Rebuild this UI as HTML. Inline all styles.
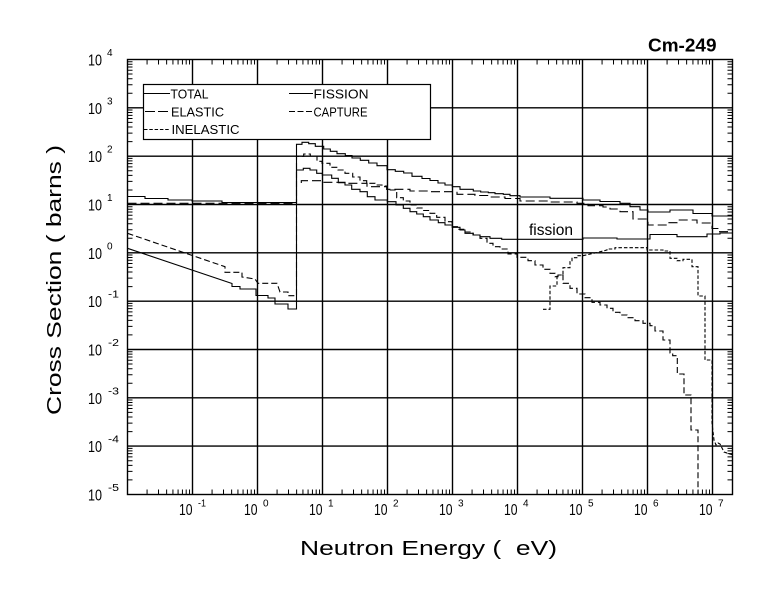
<!DOCTYPE html>
<html>
<head>
<meta charset="utf-8">
<style>
html,body{margin:0;padding:0;background:#fff;}
svg{display:block;}
text{font-family:"Liberation Sans",sans-serif;fill:#000;}
</style>
</head>
<body>
<svg width="780" height="590" viewBox="0 0 780 590" xmlns="http://www.w3.org/2000/svg">
<rect x="0" y="0" width="780" height="590" fill="#fff"/>

<!-- grid -->
<g stroke="#000" stroke-width="1.4" fill="none">
<path d="M127.5 107.8H732.5M127.5 156.2H732.5M127.5 204.5H732.5M127.5 252.8H732.5M127.5 301.2H732.5M127.5 349.5H732.5M127.5 397.8H732.5M127.5 446.1H732.5"/>
<path d="M192.5 59.5V494.5M257.5 59.5V494.5M322.5 59.5V494.5M387.5 59.5V494.5M452.5 59.5V494.5M517.5 59.5V494.5M582.5 59.5V494.5M647.5 59.5V494.5M712.5 59.5V494.5"/>
<rect x="127.5" y="59.5" width="605" height="435"/>
</g>

<!-- minor ticks -->
<g stroke="#000" stroke-width="1" fill="none">
<path d="M147.07 59.5v5m11.44 -5v5m8.12 -5v5m6.3 -5v5m5.15 -5v5m4.35 -5v5m3.77 -5v5m3.33 -5v5m22.54 -5v5m11.44 -5v5m8.12 -5v5m6.3 -5v5m5.15 -5v5m4.35 -5v5m3.77 -5v5m3.33 -5v5m22.54 -5v5m11.44 -5v5m8.12 -5v5m6.3 -5v5m5.15 -5v5m4.35 -5v5m3.77 -5v5m3.33 -5v5m22.54 -5v5m11.44 -5v5m8.12 -5v5m6.3 -5v5m5.15 -5v5m4.35 -5v5m3.77 -5v5m3.33 -5v5m22.54 -5v5m11.44 -5v5m8.12 -5v5m6.3 -5v5m5.15 -5v5m4.35 -5v5m3.77 -5v5m3.33 -5v5m22.54 -5v5m11.44 -5v5m8.12 -5v5m6.3 -5v5m5.15 -5v5m4.35 -5v5m3.77 -5v5m3.33 -5v5m22.54 -5v5m11.44 -5v5m8.12 -5v5m6.3 -5v5m5.15 -5v5m4.35 -5v5m3.77 -5v5m3.33 -5v5m22.54 -5v5m11.44 -5v5m8.12 -5v5m6.3 -5v5m5.15 -5v5m4.35 -5v5m3.77 -5v5m3.33 -5v5m22.54 -5v5m11.44 -5v5m8.12 -5v5m6.3 -5v5m5.15 -5v5m4.35 -5v5m3.77 -5v5m3.33 -5v5"/>
<path d="M147.07 494.5v-5m11.44 5v-5m8.12 5v-5m6.3 5v-5m5.15 5v-5m4.35 5v-5m3.77 5v-5m3.33 5v-5m22.54 5v-5m11.44 5v-5m8.12 5v-5m6.3 5v-5m5.15 5v-5m4.35 5v-5m3.77 5v-5m3.33 5v-5m22.54 5v-5m11.44 5v-5m8.12 5v-5m6.3 5v-5m5.15 5v-5m4.35 5v-5m3.77 5v-5m3.33 5v-5m22.54 5v-5m11.44 5v-5m8.12 5v-5m6.3 5v-5m5.15 5v-5m4.35 5v-5m3.77 5v-5m3.33 5v-5m22.54 5v-5m11.44 5v-5m8.12 5v-5m6.3 5v-5m5.15 5v-5m4.35 5v-5m3.77 5v-5m3.33 5v-5m22.54 5v-5m11.44 5v-5m8.12 5v-5m6.3 5v-5m5.15 5v-5m4.35 5v-5m3.77 5v-5m3.33 5v-5m22.54 5v-5m11.44 5v-5m8.12 5v-5m6.3 5v-5m5.15 5v-5m4.35 5v-5m3.77 5v-5m3.33 5v-5m22.54 5v-5m11.44 5v-5m8.12 5v-5m6.3 5v-5m5.15 5v-5m4.35 5v-5m3.77 5v-5m3.33 5v-5m22.54 5v-5m11.44 5v-5m8.12 5v-5m6.3 5v-5m5.15 5v-5m4.35 5v-5m3.77 5v-5m3.33 5v-5"/>
<path d="M127.5 479.92h5m-5 -8.51h5m-5 -6.04h5m-5 -4.68h5m-5 -3.83h5m-5 -3.23h5m-5 -2.79h5m-5 -2.49h5m-5 -16.76h5m-5 -8.51h5m-5 -6.04h5m-5 -4.68h5m-5 -3.83h5m-5 -3.23h5m-5 -2.79h5m-5 -2.49h5m-5 -16.76h5m-5 -8.51h5m-5 -6.04h5m-5 -4.68h5m-5 -3.83h5m-5 -3.23h5m-5 -2.79h5m-5 -2.49h5m-5 -16.76h5m-5 -8.51h5m-5 -6.04h5m-5 -4.68h5m-5 -3.83h5m-5 -3.23h5m-5 -2.79h5m-5 -2.49h5m-5 -16.76h5m-5 -8.51h5m-5 -6.04h5m-5 -4.68h5m-5 -3.83h5m-5 -3.23h5m-5 -2.79h5m-5 -2.49h5m-5 -16.76h5m-5 -8.51h5m-5 -6.04h5m-5 -4.68h5m-5 -3.83h5m-5 -3.23h5m-5 -2.79h5m-5 -2.49h5m-5 -16.76h5m-5 -8.51h5m-5 -6.04h5m-5 -4.68h5m-5 -3.83h5m-5 -3.23h5m-5 -2.79h5m-5 -2.49h5m-5 -16.76h5m-5 -8.51h5m-5 -6.04h5m-5 -4.68h5m-5 -3.83h5m-5 -3.23h5m-5 -2.79h5m-5 -2.49h5m-5 -16.76h5m-5 -8.51h5m-5 -6.04h5m-5 -4.68h5m-5 -3.83h5m-5 -3.23h5m-5 -2.79h5m-5 -2.49h5"/>
<path d="M732.5 479.92h-5m5 -8.51h-5m5 -6.04h-5m5 -4.68h-5m5 -3.83h-5m5 -3.23h-5m5 -2.79h-5m5 -2.49h-5m5 -16.76h-5m5 -8.51h-5m5 -6.04h-5m5 -4.68h-5m5 -3.83h-5m5 -3.23h-5m5 -2.79h-5m5 -2.49h-5m5 -16.76h-5m5 -8.51h-5m5 -6.04h-5m5 -4.68h-5m5 -3.83h-5m5 -3.23h-5m5 -2.79h-5m5 -2.49h-5m5 -16.76h-5m5 -8.51h-5m5 -6.04h-5m5 -4.68h-5m5 -3.83h-5m5 -3.23h-5m5 -2.79h-5m5 -2.49h-5m5 -16.76h-5m5 -8.51h-5m5 -6.04h-5m5 -4.68h-5m5 -3.83h-5m5 -3.23h-5m5 -2.79h-5m5 -2.49h-5m5 -16.76h-5m5 -8.51h-5m5 -6.04h-5m5 -4.68h-5m5 -3.83h-5m5 -3.23h-5m5 -2.79h-5m5 -2.49h-5m5 -16.76h-5m5 -8.51h-5m5 -6.04h-5m5 -4.68h-5m5 -3.83h-5m5 -3.23h-5m5 -2.79h-5m5 -2.49h-5m5 -16.76h-5m5 -8.51h-5m5 -6.04h-5m5 -4.68h-5m5 -3.83h-5m5 -3.23h-5m5 -2.79h-5m5 -2.49h-5m5 -16.76h-5m5 -8.51h-5m5 -6.04h-5m5 -4.68h-5m5 -3.83h-5m5 -3.23h-5m5 -2.79h-5m5 -2.49h-5"/>
</g>

<!-- curves -->
<g fill="none" stroke="#000" stroke-width="1.1">
<!-- TOTAL -->
<polyline points="127.5,196.5 145,196.5 145,198.5 168,198.5 168,200 192,200 192,201 222,201 222,202.5 296.5,202.5 296.5,144.3 302,144.3 302,142.3 308.7,142.3 308.7,143.7 315.3,143.7 315.3,146.3 323.7,146.3 323.7,149 330.3,149 330.3,151.3 337,151.3 337,153.7 345.3,153.7 345.3,155.5 352,155.5 352,158 360.3,158 360.3,160.3 368.7,160.3 368.7,163 377,163 377,165.7 387,165.7 387,169.7 395.3,169.7 395.3,171.3 403.7,171.3 403.7,173 412,173 412,176.3 422,176.3 422,178.5 430,178.5 430,180.5 438,180.5 438,183 445,183 445,185 452.3,185 452.3,186.7 460,186.7 460,189.3 473.3,189.3 473.3,191 480.7,191 480.7,192 488.3,192 488.3,192.7 495,192.7 495,193.7 503.3,193.7 503.3,194.3 510,194.3 510,195.7 520,195.7 520,197 550,197 550,198.3 583,198.3 583,200 600,200 600,201.5 620,201.5 620,203.3 630,203.3 630,206.7 640,206.7 640,210 648,210 648,212 670,212 670,210 693,210 693,213.5 712,213.5 712,216 732.5,216"/>
<!-- FISSION -->
<polyline points="127.5,248.3 232,283.5 232,286.5 240,286.5 240,289 256,289 256,295.5 268,295.5 268,298 275,298 275,304 288,304 288,309 296.5,309 296.5,170 303.3,170 303.3,168.3 310,168.3 310,170 316.7,170 316.7,173.3 322.3,173.3 322.3,175 331.7,175 331.7,178.3 338.3,178.3 338.3,182.7 345,182.7 345,185 351.7,185 351.7,189.3 360,189.3 360,191.7 367.3,191.7 367.3,196.7 375,196.7 375,200 387.3,200 387.3,201.7 396,201.7 396,205 403.3,205 403.3,208.3 410,208.3 410,211.7 416.7,211.7 416.7,214 423.3,214 423.3,216.7 430,216.7 430,220 438.3,220 438.3,222.7 445,222.7 445,225 452.3,225 452.3,227.3 460,227.3 460,230 465,230 465,233.3 473.3,233.3 473.3,235 480,235 480,236.7 490,236.7 490,238.3 501.7,238.3 501.7,239.3 583,239.3 583,238 617,238 617,239 650,239 650,234.5 677,234.5 677,236.7 707,236.7 707,234 720,234 720,233 732.5,233"/>
<!-- ELASTIC -->
<polyline stroke-dasharray="9 4" points="127.5,203.3 296.5,203.3"/>
<polyline stroke-dasharray="9 4" points="301.3,183 301.3,180.7 322,180.7 322,182.3 345,182.3 345,183.3 367,183.3 367,186.7 387,186.7 387,189.3 410,189.3 410,191 430,191 430,191.7 457,191.7 457,194.3 475,194.3 475,195.5 490,195.5 490,197 505,197 505,198.5 520,198.5 520,201 550,201 550,202 577,202 577,203.3 588,203.3 588,205.7 603,205.7 603,207 610,207 610,209 620,209 620,211.7 633,211.7 633,219 648,219 648,225 667,225 667,222.7 677,222.7 677,220 697,220 697,223 712,223 712,228.5 718,228.5 718,231.7 732.5,231.7"/>
<!-- CAPTURE -->
<polyline stroke-dasharray="6 3" points="127.5,233.3 225,266.7 225,272.3 242,272.3 242,277 255,279 258,283.3 277,283.3 280,292 288,292 288,295.7 296.5,295.7 296.5,156.3 303.7,156.3 303.7,154 310.3,154 310.3,156 317,156 317,161.3 322,161.3 322,163.3 330,163.3 330,167.3 338,167.3 338,170 345,170 345,173.3 352.7,173.3 352.7,177 360,177 360,180.7 366.7,180.7 366.7,183.3 375,183.3 375,185 382,185 382,186 386.7,186 386.7,190 396.7,190 396.7,197.7 403.3,197.7 403.3,201 410,201 410,205 416.7,205 416.7,208 423,208 423,210.5 430,210.5 430,213.3 436.7,213.3 436.7,217.3 445,217.3 445,221.7 452,221.7 452,226.7 458,226.7 458,229.3 465,229.3 465,232 473,232 473,235 480,235 480,238.3 487,238.3 487,243.3 493,243.3 493,246.7 500,246.7 500,249 508,249 508,254 517,254 517,257.3 528,257.3 528,260.7 535,260.7 535,265 543,265 543,269.3 550,269.3 550,273.3 555,273.3 555,276.7 558,276.7 558,275 563,275 563,283.3 570,283.3 570,288.3 577,288.3 577,294 585,294 585,297.7 592,297.7 592,302.3 600,302.3 600,305 607,305 607,308.3 613,308.3 613,312.3 620,312.3 620,315 627,315 627,317.7 635,317.7 635,320.7 643,320.7 643,323.3 650,323.3 650,325.7 655,325.7 655,331 663,331 663,340 670,340 670,353 672.7,353 672.7,355.7 677.3,355.7 677.3,374 684,374 684,395 691,395 691,430 698,430 698,494.5"/>
<!-- INELASTIC -->
<polyline stroke-dasharray="3.5 2" points="543,309.3 550,309.3 550,286 557,286 557,275 563,275 563,267.7 570,267.7 570,261.7 572,261.7 572,257.7 578,257.7 578,255.7 583,255.7 595,253 607,250 607,249 615,249 615,247.7 647,247.7 647,250 663,250 663,251 670,251 670,258.3 677,258.3 677,260.7 683,260.7 683,259.3 692,259.3 692,266.7 698,266.7 698,296 705,296 705,360 712,360 712,423 714,440 716,445 718,443 720,444 724,452 733,455"/>
</g>

<!-- legend -->
<rect x="143.5" y="84.5" width="287" height="55" fill="#fff" stroke="#000" stroke-width="1.2"/>
<g stroke="#000" stroke-width="1.1" fill="none">
<line x1="144" y1="93.5" x2="170" y2="93.5"/>
<line x1="145" y1="111.5" x2="168" y2="111.5" stroke-dasharray="10 3"/>
<line x1="144" y1="129.5" x2="170" y2="129.5" stroke-dasharray="3.5 1.8"/>
<line x1="289" y1="93.5" x2="313" y2="93.5"/>
<line x1="289" y1="111.5" x2="312" y2="111.5" stroke-dasharray="6 2.5"/>
</g>
<g font-size="13">
<text x="170.5" y="98.5" textLength="38" lengthAdjust="spacingAndGlyphs">TOTAL</text>
<text x="171" y="116.3" textLength="53" lengthAdjust="spacingAndGlyphs">ELASTIC</text>
<text x="171.5" y="134" textLength="68" lengthAdjust="spacingAndGlyphs">INELASTIC</text>
<text x="313.5" y="98.5" textLength="55" lengthAdjust="spacingAndGlyphs">FISSION</text>
<text x="313.5" y="116.3" textLength="54" lengthAdjust="spacingAndGlyphs">CAPTURE</text>
</g>

<!-- title & annotation -->
<text x="648" y="51.7" font-size="18" font-weight="bold" textLength="68.5" lengthAdjust="spacingAndGlyphs">Cm-249</text>
<text x="529" y="235" font-size="16" textLength="44" lengthAdjust="spacingAndGlyphs">fission</text>

<!-- y tick labels -->
<g font-size="16">
<text x="88" y="65.5" textLength="14" lengthAdjust="spacingAndGlyphs">10</text>
<text x="88" y="113.8" textLength="14" lengthAdjust="spacingAndGlyphs">10</text>
<text x="88" y="162.2" textLength="14" lengthAdjust="spacingAndGlyphs">10</text>
<text x="88" y="210.5" textLength="14" lengthAdjust="spacingAndGlyphs">10</text>
<text x="88" y="258.8" textLength="14" lengthAdjust="spacingAndGlyphs">10</text>
<text x="88" y="307.2" textLength="14" lengthAdjust="spacingAndGlyphs">10</text>
<text x="88" y="355.5" textLength="14" lengthAdjust="spacingAndGlyphs">10</text>
<text x="88" y="403.8" textLength="14" lengthAdjust="spacingAndGlyphs">10</text>
<text x="88" y="452.1" textLength="14" lengthAdjust="spacingAndGlyphs">10</text>
<text x="88" y="500.5" textLength="14" lengthAdjust="spacingAndGlyphs">10</text>
</g>
<g font-size="10">
<text x="107" y="56">4</text>
<text x="107" y="104.3">3</text>
<text x="107" y="152.7">2</text>
<text x="107" y="201">1</text>
<text x="107" y="249.3">0</text>
<text x="108" y="297.7" textLength="11" lengthAdjust="spacingAndGlyphs">-1</text>
<text x="108" y="346" textLength="11" lengthAdjust="spacingAndGlyphs">-2</text>
<text x="108" y="394.3" textLength="11" lengthAdjust="spacingAndGlyphs">-3</text>
<text x="108" y="442.6" textLength="11" lengthAdjust="spacingAndGlyphs">-4</text>
<text x="108" y="491" textLength="11" lengthAdjust="spacingAndGlyphs">-5</text>
</g>

<!-- x tick labels -->
<g font-size="16">
<text x="179" y="515" textLength="13.5" lengthAdjust="spacingAndGlyphs">10</text>
<text x="244" y="515" textLength="13.5" lengthAdjust="spacingAndGlyphs">10</text>
<text x="309" y="515" textLength="13.5" lengthAdjust="spacingAndGlyphs">10</text>
<text x="374" y="515" textLength="13.5" lengthAdjust="spacingAndGlyphs">10</text>
<text x="439" y="515" textLength="13.5" lengthAdjust="spacingAndGlyphs">10</text>
<text x="504" y="515" textLength="13.5" lengthAdjust="spacingAndGlyphs">10</text>
<text x="569" y="515" textLength="13.5" lengthAdjust="spacingAndGlyphs">10</text>
<text x="634" y="515" textLength="13.5" lengthAdjust="spacingAndGlyphs">10</text>
<text x="699" y="515" textLength="13.5" lengthAdjust="spacingAndGlyphs">10</text>
</g>
<g font-size="10">
<text x="198" y="506.5" textLength="8" lengthAdjust="spacingAndGlyphs">-1</text>
<text x="263" y="506.5">0</text>
<text x="328" y="506.5">1</text>
<text x="393" y="506.5">2</text>
<text x="458" y="506.5">3</text>
<text x="523" y="506.5">4</text>
<text x="588" y="506.5">5</text>
<text x="653" y="506.5">6</text>
<text x="718" y="506.5">7</text>
</g>

<!-- axis titles -->
<text x="300" y="555" font-size="20" textLength="257" lengthAdjust="spacingAndGlyphs" style="white-space:pre">Neutron Energy (  eV)</text>
<text transform="translate(61,280) rotate(-90)" text-anchor="middle" font-size="20" textLength="270" lengthAdjust="spacingAndGlyphs" style="white-space:pre">Cross Section ( barns )</text>
</svg>
</body>
</html>
